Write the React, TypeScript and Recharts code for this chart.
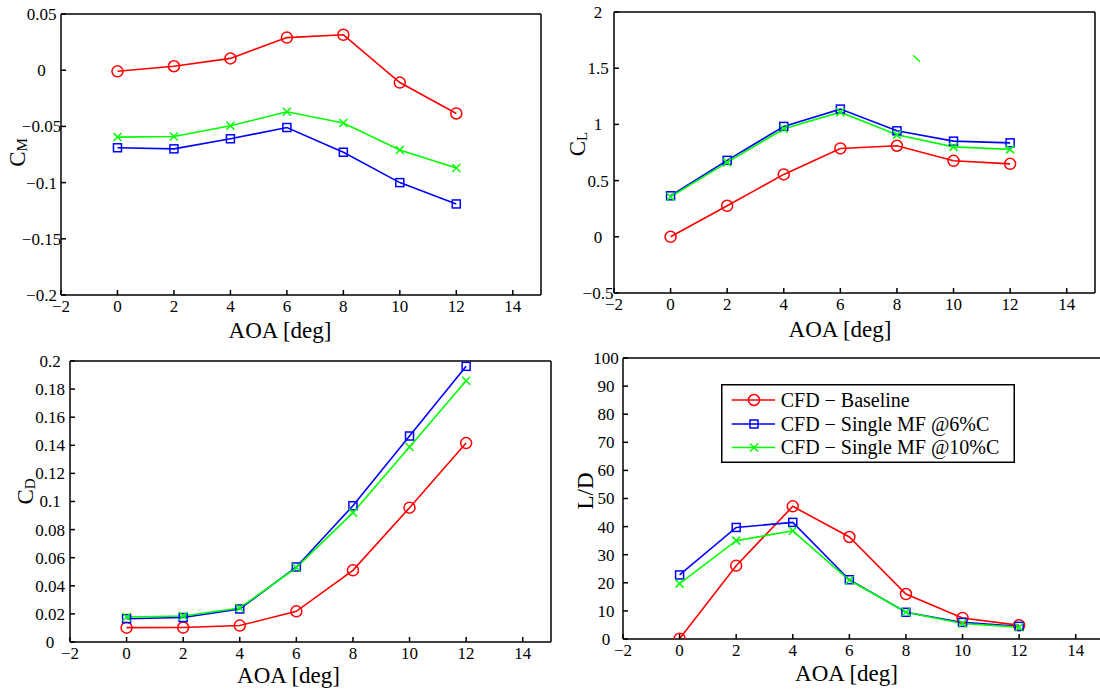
import React from 'react';
import { LineChart, Line, XAxis, YAxis, Label, Legend, ReferenceLine } from 'recharts';

// ---------- data ----------
const aoa = [0, 2, 4, 6, 8, 10, 12];
const xTicks = [-2, 0, 2, 4, 6, 8, 10, 12, 14];
const seriesNames = ['CFD − Baseline', 'CFD − Single MF @6%C', 'CFD − Single MF @10%C'];

const cmBaseline = [-0.001, 0.0035, 0.0105, 0.029, 0.0315, -0.011, -0.0385];
const cmMF6 = [-0.069, -0.07, -0.061, -0.051, -0.073, -0.1, -0.119];
const cmMF10 = [-0.0595, -0.059, -0.0495, -0.037, -0.047, -0.071, -0.087];
const cmTicks = [-0.2, -0.15, -0.1, -0.05, 0, 0.05];

const clBaseline = [0.0, 0.276, 0.555, 0.786, 0.81, 0.676, 0.649];
const clMF6 = [0.365, 0.68, 0.982, 1.136, 0.943, 0.851, 0.836];
const clMF10 = [0.356, 0.662, 0.961, 1.109, 0.907, 0.8, 0.778];
const clTicks = [-0.5, 0, 0.5, 1, 1.5, 2];
const clStray = [
  { x: 8.57, y: 1.615 },
  { x: 8.81, y: 1.56 },
];

const cdBaseline = [0.0102, 0.0103, 0.0117, 0.0218, 0.051, 0.0956, 0.1416];
const cdMF6 = [0.0166, 0.0174, 0.0235, 0.0534, 0.097, 0.1466, 0.1962];
const cdMF10 = [0.0178, 0.0185, 0.0242, 0.053, 0.0921, 0.1388, 0.186];
const cdTicks = [0, 0.02, 0.04, 0.06, 0.08, 0.1, 0.12, 0.14, 0.16, 0.18, 0.2];

const ldBaseline = [0.1, 26.1, 47.2, 36.3, 16.0, 7.5, 4.9];
const ldMF6 = [22.8, 39.7, 41.5, 21.1, 9.5, 5.9, 4.5];
const ldMF10 = [19.7, 35.0, 38.5, 20.9, 9.5, 5.5, 4.2];
const ldTicks = [0, 10, 20, 30, 40, 50, 60, 70, 80, 90, 100];

// ---------- styles ----------
const RED = '#ff0000';
const BLUE = '#0000ff';
const GREEN = '#00ff00';
const FONT = '"Liberation Serif", "Times New Roman", Times, serif';
const TICK_FS = 17;
const LABEL_FS = 23;
const SUB_FS = 15;
const LINE_W = 1.6;
const XH = 30; // bottom axis height
const YW = 40; // left axis width
const TH = 2; // top axis height
const RW = 2; // right axis width

const fmt = (v: number) => String(v).replace('-', '−');

const CircleDot = (p: any) =>
  p.cx == null ? null : <circle cx={p.cx} cy={p.cy} r={5.5} fill="none" stroke={RED} strokeWidth={1.5} />;
const SquareDot = (p: any) =>
  p.cx == null ? null : (
    <rect x={p.cx - 4} y={p.cy - 4} width={8} height={8} fill="none" stroke={BLUE} strokeWidth={1.5} />
  );
const CrossDot = (p: any) =>
  p.cx == null ? null : (
    <path
      d={`M${p.cx - 4},${p.cy - 4}L${p.cx + 4},${p.cy + 4}M${p.cx - 4},${p.cy + 4}L${p.cx + 4},${p.cy - 4}`}
      stroke={GREEN}
      strokeWidth={1.5}
      fill="none"
    />
  );

const XTick = (p: any) => (
  <text x={p.x} y={p.y} dy="0.71em" textAnchor="middle" fontSize={TICK_FS} fontFamily={FONT} fill="#000">
    {fmt(p.payload.value)}
  </text>
);
const YTick = (p: any) => (
  <text x={p.x} y={p.y} dy="0.35em" textAnchor="middle" fontSize={TICK_FS} fontFamily={FONT} fill="#000">
    {fmt(p.payload.value)}
  </text>
);

const LegendBox = () => {
  const rows = [16, 40, 63.5];
  const colors = [RED, BLUE, GREEN];
  const dots = [CircleDot, SquareDot, CrossDot];
  return (
    <svg width={294} height={79} style={{ display: 'block' }}>
      <rect x={0.75} y={0.75} width={292.5} height={77.5} fill="#fff" stroke="#000" strokeWidth={1.5} />
      {seriesNames.map((n, i) => {
        const D = dots[i];
        return (
          <g key={n}>
            <line x1={10.7} x2={54} y1={rows[i]} y2={rows[i]} stroke={colors[i]} strokeWidth={LINE_W} />
            <D cx={33} cy={rows[i]} />
            <text x={59.7} y={rows[i] + 6.8} fontSize={20} fontFamily={FONT} fill="#000">
              {n}
            </text>
          </g>
        );
      })}
    </svg>
  );
};

type PanelProps = {
  width?: number;
  values: number[][];
  plot: { top: number; right: number; bottom: number; left: number }; // plot-area edges (px)
  yDomain: [number, number];
  yTicks: number[];
  yTickOffset: number;
  yMain: string;
  ySub?: string;
  yLab: { dx: number; dy: number };
  xLab: { dx: number; dy: number };
  legend?: boolean;
  stray?: { x: number; y: number }[];
};

function Panel(props: PanelProps) {
  const { values, plot, yDomain, yTicks, yTickOffset, yMain, ySub, yLab, xLab, legend, stray } = props;
  const width = props.width ?? 1100;
  const height = 690;
  const data = aoa.map((a, i) => ({ aoa: a, base: values[0][i], mf6: values[1][i], mf10: values[2][i] }));
  const margin = {
    top: plot.top - TH,
    left: plot.left - YW,
    right: width - plot.right - RW,
    bottom: height - plot.bottom - XH,
  };
  const plotW = plot.right - plot.left;
  const plotH = plot.bottom - plot.top;

  const xLabel = () => (
    <text
      x={plot.left + plotW / 2 + xLab.dx}
      y={plot.bottom + xLab.dy}
      textAnchor="middle"
      fontSize={LABEL_FS}
      fontFamily={FONT}
      fill="#000"
    >
      AOA [deg]
    </text>
  );
  const yLabel = () => {
    const bx = plot.left + yLab.dx;
    const cy = plot.top + plotH / 2 + yLab.dy;
    return (
      <text
        x={bx}
        y={cy}
        transform={`rotate(-90, ${bx}, ${cy})`}
        textAnchor="middle"
        fontFamily={FONT}
        fill="#000"
        fontSize={LABEL_FS}
      >
        <tspan fontSize={LABEL_FS}>{yMain}</tspan>
        {ySub ? (
          <tspan fontSize={SUB_FS} dy={2}>
            {ySub}
          </tspan>
        ) : null}
      </text>
    );
  };

  return (
    <div style={{ position: 'absolute', left: 0, top: 0 }}>
      <LineChart width={width} height={height} data={data} margin={margin}>
        <XAxis
          xAxisId="b"
          dataKey="aoa"
          type="number"
          orientation="bottom"
          domain={[-2, 15]}
          ticks={xTicks}
          interval={0}
          allowDataOverflow
          height={XH}
          stroke="#000"
          strokeWidth={1.5}
          tickSize={-5}
          tickMargin={10}
          tick={XTick}
        >
          <Label content={xLabel} />
        </XAxis>
        <XAxis
          xAxisId="t"
          dataKey="aoa"
          type="number"
          orientation="top"
          domain={[-2, 15]}
          ticks={xTicks}
          interval={0}
          allowDataOverflow
          height={TH}
          stroke="#000"
          strokeWidth={1.5}
          tickSize={-5}
          tick={false}
        />
        <YAxis
          yAxisId="l"
          type="number"
          orientation="left"
          domain={yDomain}
          ticks={yTicks}
          interval={0}
          allowDataOverflow
          width={YW}
          stroke="#000"
          strokeWidth={1.5}
          tickSize={-5}
          tickMargin={5 + yTickOffset}
          tick={YTick}
        >
          <Label content={yLabel} />
        </YAxis>
        <YAxis
          yAxisId="r"
          type="number"
          orientation="right"
          domain={yDomain}
          ticks={yTicks}
          interval={0}
          allowDataOverflow
          width={RW}
          stroke="#000"
          strokeWidth={1.5}
          tickSize={-5}
          tick={false}
        />
        {stray ? (
          <ReferenceLine xAxisId="b" yAxisId="l" segment={stray} stroke={GREEN} strokeWidth={1.5} />
        ) : null}
        <Line
          xAxisId="b"
          yAxisId="l"
          dataKey="base"
          stroke={RED}
          strokeWidth={LINE_W}
          dot={CircleDot}
          isAnimationActive={false}
        />
        <Line
          xAxisId="b"
          yAxisId="l"
          dataKey="mf6"
          stroke={BLUE}
          strokeWidth={LINE_W}
          dot={SquareDot}
          isAnimationActive={false}
        />
        <Line
          xAxisId="b"
          yAxisId="l"
          dataKey="mf10"
          stroke={GREEN}
          strokeWidth={LINE_W}
          dot={CrossDot}
          isAnimationActive={false}
        />
        {legend ? (
          <Legend
            layout="horizontal"
            verticalAlign="middle"
            align="center"
            wrapperStyle={{ left: 721, top: 384, width: 294, height: 79 }}
            content={() => <LegendBox />}
          />
        ) : null}
      </LineChart>
    </div>
  );
}

export default function App() {
  return (
    <div
      style={{
        position: 'fixed',
        left: 0,
        top: 0,
        width: 1100,
        height: 690,
        background: '#fff',
        overflow: 'hidden',
        fontFamily: FONT,
      }}
    >
      <Panel
        values={[cmBaseline, cmMF6, cmMF10]}
        plot={{ top: 14, left: 61, right: 541, bottom: 295 }}
        yDomain={[-0.2, 0.05]}
        yTicks={cmTicks}
        yTickOffset={19.5}
        yMain="C"
        ySub="M"
        yLab={{ dx: -36, dy: -2 }}
        xLab={{ dx: -21, dy: 43 }}
      />
      <Panel
        values={[clBaseline, clMF6, clMF10]}
        plot={{ top: 12, left: 614, right: 1095, bottom: 293 }}
        yDomain={[-0.5, 2]}
        yTicks={clTicks}
        yTickOffset={16}
        yMain="C"
        ySub="L"
        yLab={{ dx: -29, dy: -8.5 }}
        xLab={{ dx: -14.5, dy: 44 }}
        stray={clStray}
      />
      <Panel
        values={[cdBaseline, cdMF6, cdMF10]}
        plot={{ top: 361, left: 70, right: 551, bottom: 642 }}
        yDomain={[0, 0.2]}
        yTicks={cdTicks}
        yTickOffset={20}
        yMain="C"
        ySub="D"
        yLab={{ dx: -37, dy: -10 }}
        xLab={{ dx: -22, dy: 41 }}
      />
      <Panel
        width={1110}
        values={[ldBaseline, ldMF6, ldMF10]}
        plot={{ top: 358, left: 623, right: 1104, bottom: 639 }}
        yDomain={[0, 100]}
        yTicks={ldTicks}
        yTickOffset={17}
        yMain="L/D"
        yLab={{ dx: -30, dy: -7.5 }}
        xLab={{ dx: -17, dy: 42 }}
        legend
      />
    </div>
  );
}
